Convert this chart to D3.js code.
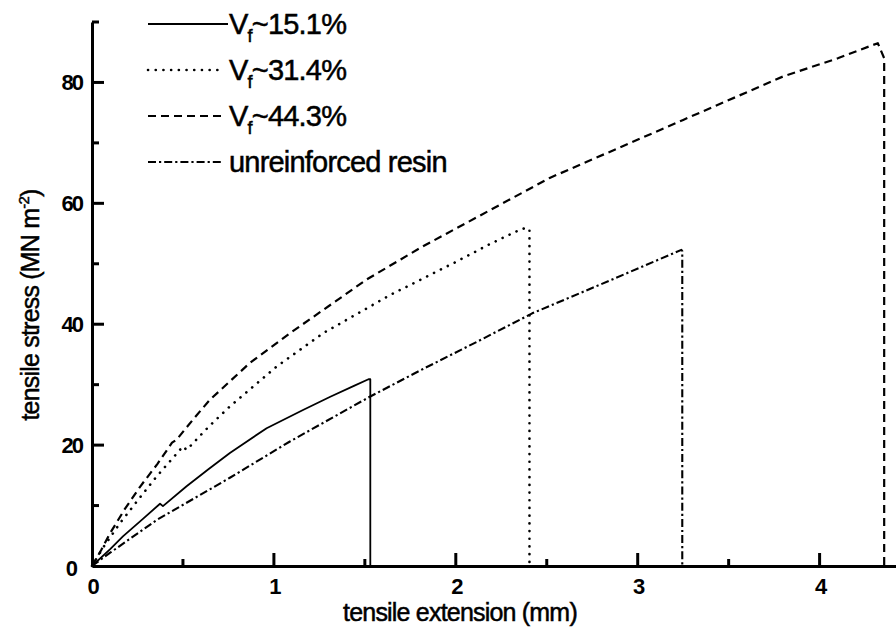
<!DOCTYPE html>
<html>
<head>
<meta charset="utf-8">
<script src="https://cdn.jsdelivr.net/npm/d3@7"></script>
<style>
  html, body { margin: 0; padding: 0; background: #fff; }
  svg { display: block; }
  text { font-family: "Liberation Sans", Arial, sans-serif; fill: #000; }
</style>
</head>
<body>
<svg id="chart" width="896" height="642"></svg>
<script>
// ---- data ----
const seriesNames = ["Vf~15.1%", "Vf~31.4%", "Vf~44.3%", "unreinforced resin"];
const legendMain = ["V", "V", "V", "unreinforced resin"];
const legendSub = ["f", "f", "f", ""];
const legendRest = ["~15.1%", "~31.4%", "~44.3%", ""];

const vf151X = [0, 0.10, 0.17, 0.28, 0.374, 0.39, 0.52, 0.64, 0.758, 0.96, 1.16, 1.31, 1.44, 1.52, 1.53, 1.53];
const vf151Y = [0, 2.8, 4.9, 7.8, 10.3, 9.9, 13.2, 16.0, 18.7, 22.8, 25.8, 28.0, 29.8, 30.9, 30.9, 0];

const vf314X = [0, 0.06, 0.154, 0.26, 0.355, 0.46, 0.50, 0.52, 0.64, 0.758, 1.015, 1.27, 1.637, 2.0, 2.19, 2.35, 2.39, 2.405, 2.405];
const vf314Y = [0, 3.0, 7.1, 11.2, 14.8, 18.4, 19.8, 19.2, 23.0, 26.4, 33.0, 38.5, 44.8, 50.3, 53.3, 55.6, 56.0, 55.6, 0];

const vf443X = [0, 0.05, 0.099, 0.18, 0.264, 0.36, 0.44, 0.465, 0.56, 0.648, 0.868, 1.088, 1.51, 1.82, 2.19, 2.516, 3.25, 3.80, 4.10, 4.32, 4.355, 4.355];
const vf443Y = [0, 2.6, 5.4, 9.4, 13.1, 16.9, 20.4, 20.9, 24.4, 27.5, 33.6, 38.5, 47.4, 52.9, 58.9, 64.2, 73.8, 81.0, 84.0, 86.5, 84.0, 0];

const resinX = [0, 0.10, 0.355, 0.758, 1.088, 1.527, 1.82, 2.13, 2.42, 2.86, 3.24, 3.245, 3.245];
const resinY = [0, 2.2, 7.6, 14.6, 20.6, 28.0, 32.6, 37.3, 41.8, 47.4, 52.3, 52.1, 0];

const xMajorTicks = [0, 1, 2, 3, 4];
const xMinorTicks = [0.5, 1.5, 2.5, 3.5];
const yMajorTicks = [0, 20, 40, 60, 80];
const yMinorTicks = [10, 30, 50, 70, 90];

const xTitle = "tensile extension (mm)";
const yTitleMain = "tensile stress (MN m";
const yTitleSup = "-2";
const yTitleEnd = ")";

// ---- build ----
const svg = d3.select("#chart");
const x = d3.scaleLinear().domain([0, 4.42]).range([92, 896]);
const y = d3.scaleLinear().domain([0, 90]).range([566, 22]);

const styles = [
  { dash: null, width: 1.8, cap: "butt" },
  { dash: "0.1,7.6", width: 2.6, cap: "round" },
  { dash: "8,5", width: 2.2, cap: "butt" },
  { dash: "8,3,2.2,3", width: 2.1, cap: "butt" }
];

const series = [
  vf151X.map((v, i) => [v, vf151Y[i]]),
  vf314X.map((v, i) => [v, vf314Y[i]]),
  vf443X.map((v, i) => [v, vf443Y[i]]),
  resinX.map((v, i) => [v, resinY[i]])
];

const line = d3.line().x(d => x(d[0])).y(d => y(d[1])).curve(d3.curveLinear);

series.forEach((s, i) => {
  svg.append("path")
    .attr("d", line(s))
    .attr("fill", "none")
    .attr("stroke", "#000")
    .attr("stroke-width", styles[i].width)
    .attr("stroke-linecap", styles[i].cap)
    .attr("stroke-linejoin", "round")
    .attr("stroke-dasharray", styles[i].dash);
});

// axes (labels + domain via d3 axes)
const gx = svg.append("g").attr("transform", `translate(0,${y(0)})`)
  .call(d3.axisBottom(x).tickValues(xMajorTicks).tickSize(0).tickPadding(12).tickFormat(d3.format("d")));
const gy = svg.append("g").attr("transform", `translate(${x(0)},0)`)
  .call(d3.axisLeft(y).tickValues(yMajorTicks).tickSize(0).tickPadding(10).tickFormat(d3.format("d")));

[gx, gy].forEach(g => {
  g.select(".domain").attr("stroke", "#000").attr("stroke-width", 3);
  g.selectAll(".tick line").remove();
  g.selectAll("text").attr("font-size", 22).attr("font-weight", "bold")
    .attr("font-family", "Liberation Sans, Arial, sans-serif").attr("fill", "#000")
    .style("letter-spacing", "-2px");
});
gy.selectAll(".tick").filter(d => d === 0).select("text").attr("dx", -6).attr("dy", "0.45em");

// inward tick marks
const tickG = svg.append("g");
function addTicks(vals, isX, len) {
  vals.forEach(v => {
    const l = tickG.append("line")
      .attr("stroke", "#000").attr("stroke-width", 3);
    if (isX) l.attr("x1", x(v)).attr("x2", x(v)).attr("y1", y(0)).attr("y2", y(0) - len);
    else l.attr("x1", x(0)).attr("x2", x(0) + len).attr("y1", y(v)).attr("y2", y(v));
  });
}
addTicks(xMajorTicks.filter(d => d > 0), true, 13);
addTicks(xMinorTicks, true, 7);
addTicks(yMajorTicks.filter(d => d > 0), false, 12);
addTicks(yMinorTicks, false, 7);

// axis titles
svg.append("text")
  .attr("x", 460).attr("y", 621)
  .attr("text-anchor", "middle")
  .attr("font-size", 25)
  .attr("stroke", "#000").attr("stroke-width", 0.5)
  .style("letter-spacing", "-0.8px")
  .text(xTitle);

const yt = svg.append("text")
  .attr("transform", "translate(39,305) rotate(-90)")
  .attr("text-anchor", "middle")
  .attr("font-size", 25)
  .attr("stroke", "#000").attr("stroke-width", 0.5)
  .style("letter-spacing", "-0.8px");
yt.append("tspan").text(yTitleMain);
yt.append("tspan").attr("font-size", 15).attr("dy", -10).text(yTitleSup);
yt.append("tspan").attr("dy", 10).text(yTitleEnd);

// legend
const legendY0 = 24, legendStep = 46;
seriesNames.forEach((name, i) => {
  const ly = legendY0 + i * legendStep;
  svg.append("line")
    .attr("x1", 148).attr("x2", i === 0 ? 228 : 223)
    .attr("y1", ly).attr("y2", ly)
    .attr("stroke", "#000")
    .attr("stroke-width", styles[i].width)
    .attr("stroke-linecap", styles[i].cap)
    .attr("stroke-dasharray", styles[i].dash);
  const t = svg.append("text")
    .attr("x", 229).attr("y", ly + 10)
    .attr("font-size", 29)
    .attr("stroke", "#000").attr("stroke-width", 0.5)
    .style("letter-spacing", "-0.8px");
  t.append("tspan").text(legendMain[i]);
  if (legendSub[i]) {
    t.append("tspan").attr("font-size", 18).attr("dy", 8).text(legendSub[i]);
    t.append("tspan").attr("dy", -8).text(legendRest[i]);
  }
});
</script>
</body>
</html>
